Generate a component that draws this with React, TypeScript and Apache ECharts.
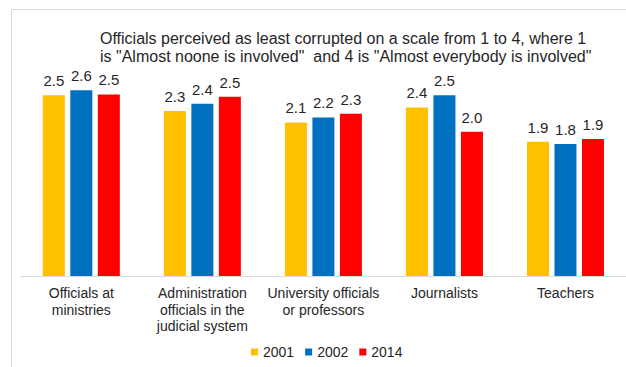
import React, { useEffect, useRef } from "react";
import * as echarts from "echarts";

const categories = [
  "Officials at\nministries",
  "Administration\nofficials in the\njudicial system",
  "University officials\nor professors",
  "Journalists",
  "Teachers",
];
const years = ["2001", "2002", "2014"];
const values2001 = [2.52, 2.3, 2.14, 2.35, 1.87];
const values2002 = [2.59, 2.4, 2.21, 2.52, 1.84];
const values2014 = [2.53, 2.5, 2.26, 2.01, 1.91];
const colors = ["#FFC000", "#0070C0", "#FF0000"];
const titleText =
  'Officials perceived as least corrupted on a scale from 1 to 4, where 1\nis "Almost noone is involved"  and 4 is "Almost everybody is involved"';

const FONT = "'Liberation Sans', Arial, sans-serif";

export default function App() {
  const ref = useRef<HTMLDivElement>(null);
  useEffect(() => {
    if (!ref.current) return;
    const chart = echarts.init(ref.current, null, { renderer: "svg" });
    const seriesData = [values2001, values2002, values2014];
    chart.setOption({
      animation: false,
      backgroundColor: "#ffffff",
      textStyle: { fontFamily: FONT },
      title: {
        text: titleText,
        left: 95,
        top: 25,
        textStyle: {
          fontSize: 16,
          lineHeight: 17.6,
          fontWeight: "normal",
          color: "#262626",
          fontFamily: FONT,
        },
      },
      legend: {
        data: years,
        left: 246,
        top: 340,
        icon: "rect",
        itemWidth: 7,
        itemHeight: 7,
        itemGap: 11,
        textStyle: { fontSize: 14, color: "#262626", fontFamily: FONT },
      },
      grid: { left: 20.8, top: 60.75, width: 615, height: 215.25, containLabel: false },
      xAxis: {
        type: "category",
        data: categories,
        axisLine: { lineStyle: { color: "#d9d9d9", width: 1 } },
        axisTick: { show: false },
        axisLabel: {
          fontSize: 14,
          lineHeight: 16.5,
          color: "#262626",
          fontFamily: FONT,
          margin: 9,
          interval: 0,
        },
      },
      yAxis: { type: "value", min: 0, max: 3, show: false, splitLine: { show: false } },
      graphic: [
        {
          type: "rect",
          shape: { x: 11.5, y: 9.5, width: 700, height: 500 },
          style: { fill: "none", stroke: "#d9d9d9", lineWidth: 1 },
          silent: true,
          z: -1,
        },
      ],
      series: years.map((y, i) => ({
        name: y,
        type: "bar",
        data: seriesData[i],
        barWidth: 22,
        barGap: "25%",
        itemStyle: { color: colors[i] },
        label: {
          show: true,
          position: "top",
          distance: 7,
          fontSize: 15,
          color: "#262626",
          fontFamily: FONT,
          formatter: (p: any) => p.value.toFixed(1),
        },
      })),
    });
    return () => chart.dispose();
  }, []);
  return (
    <div
      ref={ref}
      style={{ position: "fixed", left: 0, top: 0, width: 626, height: 367 }}
    />
  );
}
